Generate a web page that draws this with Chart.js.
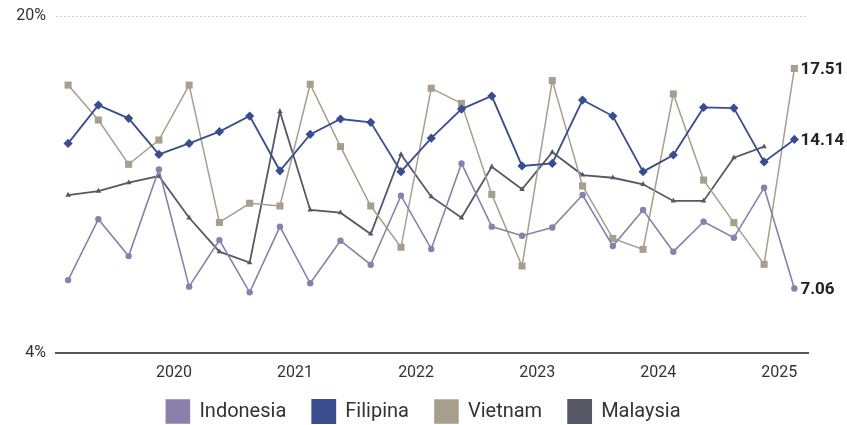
<!DOCTYPE html>
<html>
<head>
<meta charset="utf-8">
<script src="https://cdn.jsdelivr.net/npm/chart.js@4"></script>
<style>
  html, body { margin: 0; padding: 0; background: #fff; }
  #wrap { width: 847px; height: 425px; }
</style>
</head>
<body>
<div id="wrap"><canvas id="c" width="847" height="425"></canvas></div>
<script>
// Quarterly periods, 2019 T1 .. 2025 T1
const quarters = [
  '2019 T1','2019 T2','2019 T3','2019 T4',
  '2020 T1','2020 T2','2020 T3','2020 T4',
  '2021 T1','2021 T2','2021 T3','2021 T4',
  '2022 T1','2022 T2','2022 T3','2022 T4',
  '2023 T1','2023 T2','2023 T3','2023 T4',
  '2024 T1','2024 T2','2024 T3','2024 T4',
  '2025 T1'
];
const yearLabels = ['2020', '2021', '2022', '2023', '2024', '2025'];
const yTicks = [4, 20];

// Growth rates (%)
const indonesia = [7.46, 10.35, 8.60, 12.72, 7.15, 9.36, 6.88, 10.00, 7.31, 9.33, 8.19, 11.47,
                   8.94, 13.00, 10.00, 9.57, 9.96, 11.50, 9.08, 10.79, 8.81, 10.23, 9.47, 11.85, 7.06];
const filipina  = [13.95, 15.77, 15.14, 13.43, 13.95, 14.51, 15.25, 12.65, 14.38, 15.11, 14.95, 12.61,
                   14.20, 15.58, 16.20, 12.88, 13.00, 16.01, 15.25, 12.61, 13.40, 15.66, 15.63, 13.07, 14.14];
const vietnam   = [16.72, 15.06, 12.96, 14.11, 16.72, 10.20, 11.11, 10.98, 16.76, 13.80, 10.98, 9.02,
                   16.57, 15.85, 11.53, 8.13, 16.93, 11.93, 9.44, 8.92, 16.30, 12.21, 10.19, 8.21, 17.51];
const malaysia  = [11.50, 11.69, 12.09, 12.40, 10.42, 8.81, 8.29, 15.46, 10.79, 10.66, 9.65, 13.43,
                   11.42, 10.42, 12.84, 11.77, 13.53, 12.45, 12.32, 12.01, 11.22, 11.22, 13.27, 13.80];

const toPoints = arr => arr.map((v, i) => ({ x: i, y: v }));
// year ticks sit between the last quarter of the previous year and T1
const yearTickPos = yearLabels.map(y => quarters.indexOf(y + ' T1') - 0.5);

const FONT = 'Roboto, "Open Sans", sans-serif';

// value labels next to the latest point of each series
const endLabels = {
  id: 'endLabels',
  afterDatasetsDraw(chart) {
    const ctx = chart.ctx;
    ctx.save();
    ctx.font = 'bold 17px ' + FONT;
    ctx.fillStyle = '#222';
    ctx.textAlign = 'left';
    ctx.textBaseline = 'middle';
    chart.data.datasets.forEach((ds, di) => {
      if (!ds.endLabel) return;
      const meta = chart.getDatasetMeta(di);
      const last = meta.data[meta.data.length - 1];
      const v = ds.data[ds.data.length - 1].y;
      ctx.fillText(v.toFixed(2), last.x + 6, last.y + 1);
    });
    ctx.restore();
  }
};

// compact legend block: fixed height, items nudged up, wide gaps between items
const legendHeight = {
  id: 'legendHeight',
  beforeInit(chart) {
    const lg = chart.legend;
    if (!lg) return;
    const fit = lg.fit;
    lg.fit = function () { fit.call(this); this.height = 44; };
    const drawItems = lg._draw;
    lg._draw = function () {
      this.ctx.save();
      this.ctx.translate(0, -7);
      drawItems.call(this);
      this.ctx.restore();
    };
  }
};

function series(label, values, color, style, radius, width, endLabel) {
  return {
    label,
    data: toPoints(values),
    borderColor: color,
    backgroundColor: color,
    borderWidth: width,
    pointStyle: style,
    pointRadius: radius,
    pointHoverRadius: radius,
    pointBackgroundColor: color,
    pointBorderWidth: 0,
    tension: 0,
    endLabel
  };
}

new Chart(document.getElementById('c'), {
  type: 'line',
  data: {
    datasets: [
      series('Indonesia', indonesia, '#8a80ab', 'circle', 3.2, 1.6, true),
      series('Filipina', filipina, '#3a4d8e', 'rectRot', 4.6, 1.8, true),
      series('Vietnam', vietnam, '#a89e8c', 'rect', 5, 1.5, true),
      series('Malaysia', malaysia, '#565965', 'triangle', 3.2, 1.8, false)
    ]
  },
  options: {
    responsive: false,
    animation: false,
    events: [],
    layout: { padding: { left: 0, right: 0, top: 16, bottom: 0 } },
    plugins: {
      tooltip: { enabled: false },
      legend: {
        position: 'bottom',
        labels: {
          boxWidth: 23,
          boxHeight: 23,
          padding: 26,
          color: '#333',
          font: { family: FONT, size: 20 }
        }
      }
    },
    scales: {
      x: {
        type: 'linear',
        min: -0.4,
        max: 24.45,
        afterBuildTicks: scale => { scale.ticks = yearTickPos.map(v => ({ value: v })); },
        afterFit: scale => { scale.height = 28; },
        ticks: {
          autoSkip: false,
          maxRotation: 0,
          padding: 2,
          color: '#333',
          font: { family: FONT, size: 16 },
          callback: (v, i) => yearLabels[i]
        },
        grid: { display: false },
        border: { display: true, color: '#555', width: 2 }
      },
      y: {
        min: 4,
        max: 20,
        afterBuildTicks: scale => { scale.ticks = yTicks.map(v => ({ value: v })); },
        afterFit: scale => {
          scale.width = 56;
          scale.paddingTop = 0;
          scale.paddingBottom = 0;
        },
        ticks: {
          padding: 10,
          color: '#333',
          font: { family: FONT, size: 16, lineHeight: 1 },
          callback: v => v + '%'
        },
        grid: {
          drawTicks: false,
          lineWidth: 1,
          color: ctx => (ctx.tick && ctx.tick.value === 20) ? '#cfcfcf' : 'rgba(0,0,0,0)'
        },
        border: { display: false, dash: [2, 2] }
      },
      // empty right-hand margin for the value labels
      yRight: {
        position: 'right',
        min: 4,
        max: 20,
        afterFit: scale => { scale.width = 39; scale.paddingTop = 0; scale.paddingBottom = 0; },
        ticks: { display: false },
        grid: { display: false },
        border: { display: false }
      }
    }
  },
  plugins: [endLabels, legendHeight]
});
</script>
</body>
</html>
